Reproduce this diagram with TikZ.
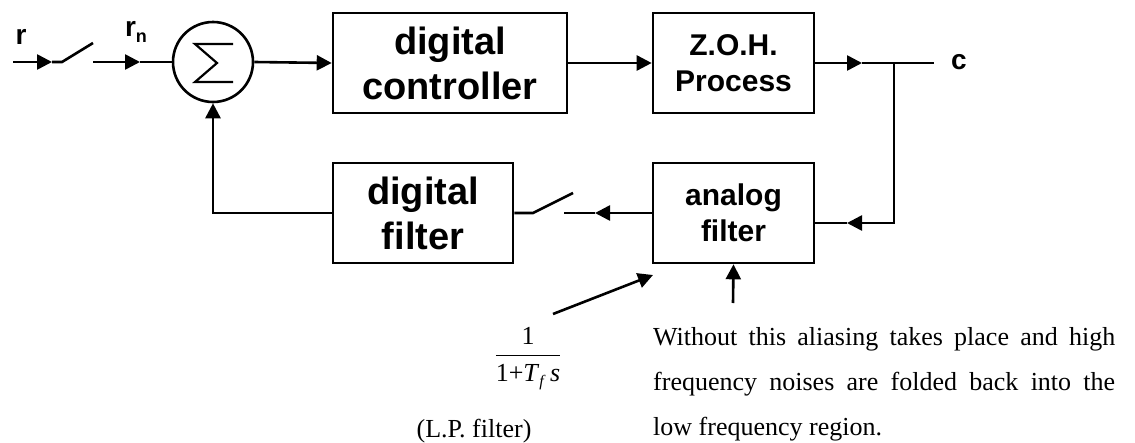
\documentclass[tikz,border=0pt]{standalone}
\usepackage{fontspec}
\setmainfont{Liberation Serif}
\setsansfont{Liberation Sans}
\usetikzlibrary{arrows.meta}

\begin{document}
\begin{tikzpicture}[x=1pt,y=-1pt,
  wire/.style={line width=2.6pt},
  arr/.style={wire,-{Triangle[length=15pt,width=15pt]}},
  block/.style={draw,line width=2.6pt,inner sep=0pt,align=center,
    font=\sffamily\bfseries\fontsize{38}{45}\selectfont},
  smallblock/.style={block,font=\sffamily\bfseries\fontsize{30}{36}\selectfont},
  sig/.style={inner sep=0pt,font=\sffamily\bfseries\fontsize{28}{30}\selectfont},
  note/.style={inner sep=0pt,font=\fontsize{26}{30}\selectfont}
]
\useasboundingbox (0,0) rectangle (1135,442);

% blocks
\node[circle,draw,line width=2.6pt,minimum size=80pt,inner sep=0pt] (sum) at (213,62) {};
\draw[line width=2.2pt,line join=miter] (233,44) -- (195,44) -- (217,63) -- (195,82) -- (233,82);
\node[block,minimum width=234pt,minimum height=100pt] (ctrl) at (450,63) {digital\\controller};
\node[smallblock,minimum width=161pt,minimum height=100pt] (zoh) at (733.5,63) {Z.O.H.\\Process};
\node[smallblock,minimum width=161pt,minimum height=100pt] (afilt) at (733.5,213) {analog\\filter};
\node[block,minimum width=180pt,minimum height=100pt] (dfilt) at (423,213) {digital\\filter};

% signal labels
\node[sig] (lr) at (21,37) {r};
\node[sig] (lrn) at (136,32) {r\raisebox{-6pt}{\fontsize{18}{18}\selectfont n}};
\node[sig] (lc) at (959,62) {c};

% input sampler
\coordinate (in) at (13,62);
\coordinate (t1) at (52,62);
\coordinate (s1a) at (62,62);
\coordinate (s1b) at (93,43);
\coordinate (s1c) at (93,62);
\coordinate (t2) at (140,62);
\draw[arr] (in) -- (t1);
\draw[wire] (t1) -- (s1a) -- (s1b);
\draw[arr] (s1c) -- (t2);
\draw[wire] (t2) -- (sum.west);

% forward path
\draw[arr] (sum.east) -- (ctrl.west);
\draw[arr] (ctrl.east) -- (zoh.west);
\coordinate (t3) at (862,63);
\coordinate (br) at (894,63);
\coordinate (out) at (934,63);
\draw[arr] (zoh.east) -- (t3);
\draw[wire] (t3) -- (out);

% feedback path
\coordinate (brd) at (894,223);
\coordinate (t4) at (847,223);
\draw[arr] (br) -- (brd) -- (t4);
\draw[wire] (t4) -- ([yshift=-10pt]afilt.east);
\coordinate (t5) at (595,213);
\coordinate (s2c) at (564,213);
\coordinate (s2a) at (533,213);
\coordinate (s2b) at (573,193);
\draw[arr] (afilt.west) -- (t5);
\draw[wire] (t5) -- (s2c);
\draw[wire] (dfilt.east) -- (s2a) -- (s2b);
\coordinate (fbc) at (213,213);
\draw[arr] (dfilt.west) -- (fbc) -- (sum.south);

% annotations
\coordinate (nz) at (733,303);
\draw[arr] (nz) -- (afilt.south);
\coordinate (lpa) at (553,314);
\coordinate (lpb) at (653,275);
\draw[arr] (lpa) -- (lpb);

\node[note,anchor=base] (tf) at (528,361.5)
  {$\displaystyle\frac{\hbox{1}}{\rule{0pt}{25pt}\hbox{1+\textit{T}\raisebox{-5pt}{\fontsize{16}{16}\selectfont\textit{f}}\,\textit{s}}}$};
\node[note,anchor=base] (lp) at (474,437) {(L.P. filter)};
\node[note,anchor=base west] (n1) at (653,345) {\makebox[462pt][s]{Without this aliasing takes place and high}};
\node[note,anchor=base west] (n2) at (653,390) {\makebox[462pt][s]{frequency noises are folded back into the}};
\node[note,anchor=base west] (n3) at (653,435) {low frequency region.};
\end{tikzpicture}
\end{document}
